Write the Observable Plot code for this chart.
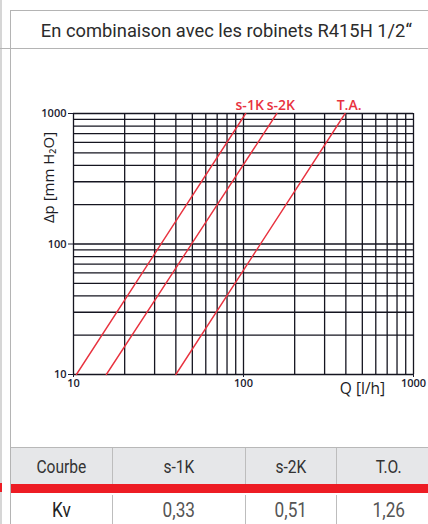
<!DOCTYPE html>
<html><head><meta charset="utf-8">
<script src="https://cdn.jsdelivr.net/npm/d3@7"></script>
<script src="https://cdn.jsdelivr.net/npm/@observablehq/plot@0.6"></script>
<style>
html,body{margin:0;padding:0;background:#fff}
body{width:428px;height:524px;overflow:hidden;position:relative;font-family:Roboto,sans-serif}
.abs{position:absolute}
#strip{left:0;top:0;width:2px;height:524px;background:#d6d6d6}
#vborder{left:10px;top:10px;width:1px;height:514px;background:#b4b4b4}
#tborder{left:10px;top:10px;width:418px;height:1px;background:#b4b4b4}
#hline{left:0;top:48px;width:428px;height:1px;background:#b4b4b4}
#title{left:11px;top:13px;width:430px;height:35px;line-height:37px;text-align:center;font-size:18.5px;color:#2b2b2b;white-space:nowrap}
#title span{display:inline-block;transform:scaleX(0.99);transform-origin:center}
#chart{left:0;top:49px}
#table{left:11px;top:447px;width:430px}
.row{position:relative;display:flex;width:430px}
.cell{box-sizing:border-box;text-align:center;white-space:nowrap;border-right:1px solid #bdbdbd}
.cell span{display:inline-block;transform:scaleX(0.82);transform-origin:center}
#hdr{height:36px;background:#e6e7e9;border-top:1px solid #b8b8b8;line-height:38px;font-size:19px;color:#333}
#red{height:9px;background:#ed1c24;width:430px}
#redl{left:0;top:483px;width:2px;height:9px;background:#ed1c24}
#body{height:30px;padding-top:2px;line-height:30px;font-size:21px;color:#555}
</style></head>
<body>
<div id="strip" class="abs"></div>
<div id="redl" class="abs"></div>
<div id="vborder" class="abs"></div>
<div id="tborder" class="abs"></div>
<div id="hline" class="abs"></div>
<div id="title" class="abs"><span>En combinaison avec les robinets R415H 1/2“</span></div>
<div id="chart" class="abs"></div>
<div id="table" class="abs">
  <div id="hdr" class="row"></div>
  <div id="red"></div>
  <div id="body" class="row"></div>
</div>
<script>
// ---- data ----
const series = ["s-1K", "s-2K", "T.A."];
const dpEnds = [10, 1000];            // Δp at line ends [mm H2O]
const qAtLow = [10.4, 15.6, 40];      // Q [l/h] at Δp = 10
const qAtHigh = [103, 157, 396];      // Q [l/h] at Δp = 1000
const qGrid = [10,20,30,40,50,60,70,80,90,100,200,300,400,500,600,700,800,900,1000];
const dpGrid = [10,20,30,40,50,60,70,80,90,100,200,300,400,500,600,700,800,900,1000];
const qTicks = [10, 100, 1000];
const dpTicks = [10, 100, 1000];
const xLabel = "Q [l/h]";
const yLabel = "Δp [mm H₂O]";
const tableHeader = ["Courbe", "s-1K", "s-2K", "T.O."];
const tableKv = ["Kv", "0,33", "0,51", "1,26"];
const colWidths = [102, 133, 91, 104];

// ---- build ----
const lines = series.flatMap((s, i) => [
  {series: s, q: qAtLow[i], dp: dpEnds[0]},
  {series: s, q: qAtHigh[i], dp: dpEnds[1]}
]);
const tops = lines.filter(d => d.dp === dpEnds[1]);
const RED = "#e8323f";
const INK = "#151520";

const plot = Plot.plot({
  width: 428,
  height: 398,
  marginLeft: 73,
  marginRight: 15,
  marginTop: 64,
  marginBottom: 73,
  style: {fontFamily: "'Open Sans', sans-serif", background: "transparent", overflow: "visible"},
  x: {type: "log", domain: [10, 1000]},
  y: {type: "log", domain: [10, 1000]},
  marks: [
    Plot.ruleX(qGrid, {x: d => d, stroke: INK, strokeWidth: 1.3}),
    Plot.ruleY(dpGrid, {y: d => d, stroke: INK, strokeWidth: 1.3}),
    Plot.line(lines, {x: "q", y: "dp", z: "series", stroke: RED, strokeWidth: 1.4}),
    Plot.text(tops, {x: "q", y: "dp", text: "series", fill: RED, fontSize: 14, fontWeight: 600,
      dx: 4, dy: -4, lineAnchor: "bottom", textAnchor: "middle"}),
    Plot.axisY({ticks: dpTicks, tickFormat: d => String(d), tickSize: 5, tickPadding: 2,
      fontSize: 11, fontWeight: 600, color: "#1c1c30", label: null}),
    Plot.axisX({ticks: qTicks, tickFormat: d => String(d), tickSize: 3, tickPadding: 2,
      fontSize: 11, fontWeight: 600, color: "#1c1c30", label: null}),
    Plot.text([xLabel], {frameAnchor: "bottom-right", dx: -51, dy: 19, fontSize: 15.5, fill: "#1c1c24", textAnchor: "middle"}),
    Plot.text([yLabel], {frameAnchor: "top-left", dx: -30, dy: 64, rotate: -90, fontSize: 15, fill: "#1c1c24", textAnchor: "middle"})
  ]
});
document.getElementById("chart").appendChild(plot);

const hdr = document.getElementById("hdr");
const body = document.getElementById("body");
tableHeader.forEach((t, i) => {
  const c = document.createElement("div");
  c.className = "cell"; c.style.width = colWidths[i] + "px";
  c.innerHTML = "<span></span>"; c.firstChild.textContent = t;
  hdr.appendChild(c);
});
tableKv.forEach((t, i) => {
  const c = document.createElement("div");
  c.className = "cell"; c.style.width = colWidths[i] + "px";
  if (i === 0) c.style.color = "#222";
  c.innerHTML = "<span></span>"; c.firstChild.textContent = t;
  body.appendChild(c);
});
</script>
</body></html>
